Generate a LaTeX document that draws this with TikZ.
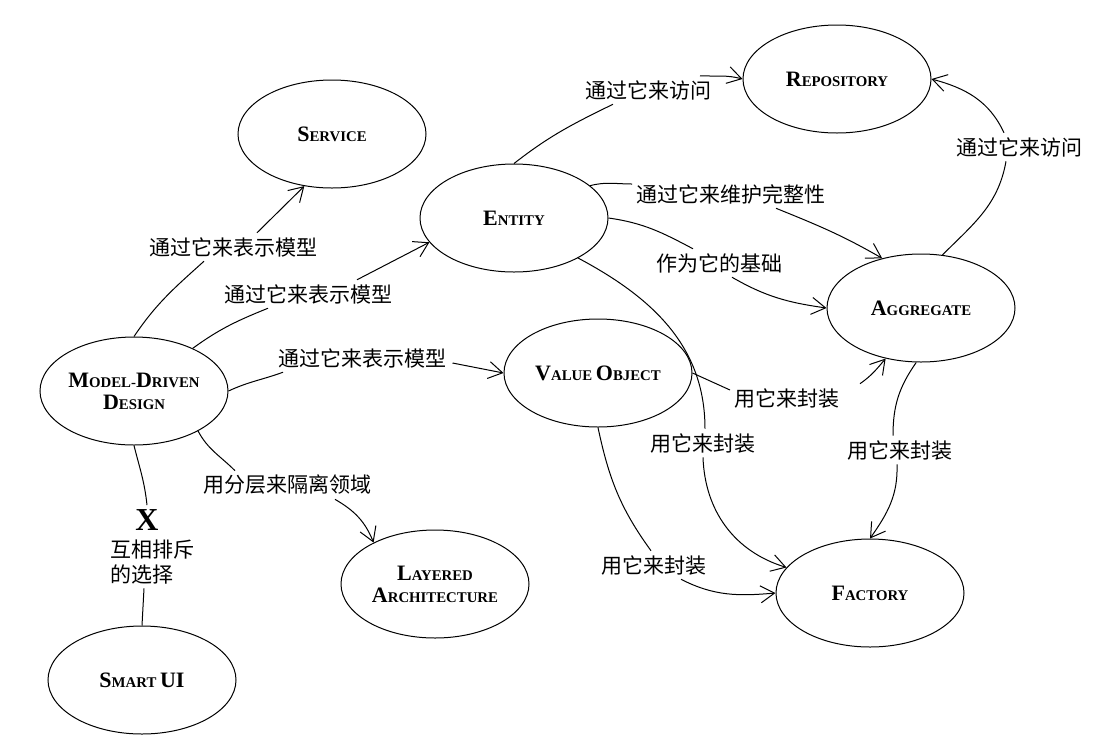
\documentclass[tikz,border=0pt]{standalone}
\usepackage{fontspec}
\setmainfont{Liberation Serif}
\newfontfamily\cjk{Noto Sans CJK SC}
\usepackage{tikz}
\usetikzlibrary{shapes,arrows.meta,positioning}
\newcommand{\bc}[1]{{\fontsize{11}{11}\selectfont #1}}

\begin{document}
\begin{tikzpicture}[x=0.5pt,y=-0.5pt,line width=0.5pt,
	>={Straight Barb[length=7pt,width=8.5pt]},
	concept/.style={draw,ellipse,minimum width=94pt,minimum height=54pt,inner sep=0pt,align=center,font=\fontsize{7.4}{11}\selectfont\bfseries},
	rel/.style={inner sep=2pt,font=\cjk\fontsize{10.5}{12.5}\selectfont}]
	\useasboundingbox (0,0) rectangle (1099,735);
	
	\node[concept] (svc) at (332,134) {\bc{S}ERVICE};
	\node[concept] (rep) at (837,79) {\bc{R}EPOSITORY};
	\node[concept] (ent) at (514,218) {\bc{E}NTITY};
	\node[concept] (agg) at (921,308) {\bc{A}GGREGATE};
	\node[concept] (mdd) at (134,391) {\bc{M}ODEL-\bc{D}RIVEN\\\bc{D}ESIGN};
	\node[concept] (vo) at (598,373) {\bc{V}ALUE \bc{O}BJECT};
	\node[concept] (lay) at (435,584) {\bc{L}AYERED\\\bc{A}RCHITECTURE};
	\node[concept] (fac) at (870,593) {\bc{F}ACTORY};
	\node[concept] (smart) at (142,680) {\bc{S}MART \bc{UI}};
	
	\node[rel] (lsvc) at (233,247) {通过它来表示模型};
	\node[rel] (lent) at (308,294) {通过它来表示模型};
	\node[rel] (lvo) at (362,358) {通过它来表示模型};
	\node[rel] (llay) at (287,485) {用分层来隔离领域};
	\node[inner sep=2pt,font=\fontsize{16}{16}\selectfont\bfseries] (x5) at (147,520) {X};
	\node[rel,align=left,below=0pt of x5,xshift=2.5pt] (lx) {互相排斥\\的选择};
	\node[rel] (lrep) at (648,90) {通过它来访问};
	\node[rel] (lagr) at (731,194) {通过它来维护完整性};
	\node[rel] (lbase) at (719,263) {作为它的基础};
	\node[rel] (lacc) at (1019,147) {通过它来访问};
	\node[rel] (lvoag) at (787,398) {用它来封装};
	\node[rel] (lenfa) at (703,443) {用它来封装};
	\node[rel] (lvofa) at (654,565) {用它来封装};
	\node[rel] (lagfa) at (900,450) {用它来封装};
	
	% model-driven design
	\draw (mdd.north) to[out=56,in=222] ([xshift=-14.5pt]lsvc.south);
	\draw[->] ([xshift=12pt]lsvc.north) -- (svc.242);
	\draw (mdd.36) to[out=36,in=202] ([xshift=-20pt]lent.south);
	\draw[->] ([xshift=24.5pt]lent.north) -- (ent.196);
	\draw (mdd.east) to[out=25,in=200] ([xshift=-39.5pt]lvo.south);
	\draw[->] ([xshift=1pt,yshift=-2.5pt]lvo.east) -- (vo.west);
	\draw (mdd.-32) to[out=-62,in=135] ([xshift=-26pt]llay.north);
	\draw[->] ([xshift=24pt]llay.south) to[out=-30,in=112] (lay.146);
	\draw (mdd.south) to[out=-76,in=96] (x5.north);
	\draw ([xshift=-4pt]lx.south) -- (smart.north);
	
	% entity
	\draw (ent.north) to[out=38,in=206] ([xshift=-17.5pt]lrep.south);
	\draw[->] ([xshift=26pt]lrep.north) to[out=-3,in=165] (rep.west);
	\draw (ent.23) to[out=15,in=180] ([yshift=5pt]lagr.west);
	\draw[->] ([xshift=22.5pt]lagr.south) to[out=-22,in=150] (agg.128);
	\draw (ent.east) to[out=-8,in=152] ([xshift=-13pt]lbase.north);
	\draw[->] ([xshift=6.5pt]lbase.south) to[out=-30,in=172] (agg.west);
	\draw (ent.-32) to[out=-28,in=90] ([xshift=1pt]lenfa.north);
	\draw[->] (lenfa.south) to[out=-88,in=163] (fac.163);
	
	% aggregate
	\draw (agg.68) to[out=45,in=-100] ([xshift=-6.5pt]lacc.south);
	\draw[->] ([xshift=-7.5pt]lacc.north) to[out=115,in=-15] (rep.east);
	\draw (agg.-95) to[out=-125,in=90] ([xshift=-3.5pt]lagfa.north);
	\draw[->] ([xshift=-1.5pt]lagfa.south) to[out=-88,in=55] (fac.north);
	
	% value object
	\draw (vo.east) -- ([yshift=4pt]lvoag.west);
	\draw[->] ([xshift=8pt]lvoag.north east) to[out=35,in=230] (agg.235);
	\draw (vo.south) to[out=-78,in=126] ([xshift=-1.5pt]lvofa.north);
	\draw[->] ([xshift=13.5pt]lvofa.south) to[out=-27,in=185] (fac.west);
\end{tikzpicture}
\end{document}
